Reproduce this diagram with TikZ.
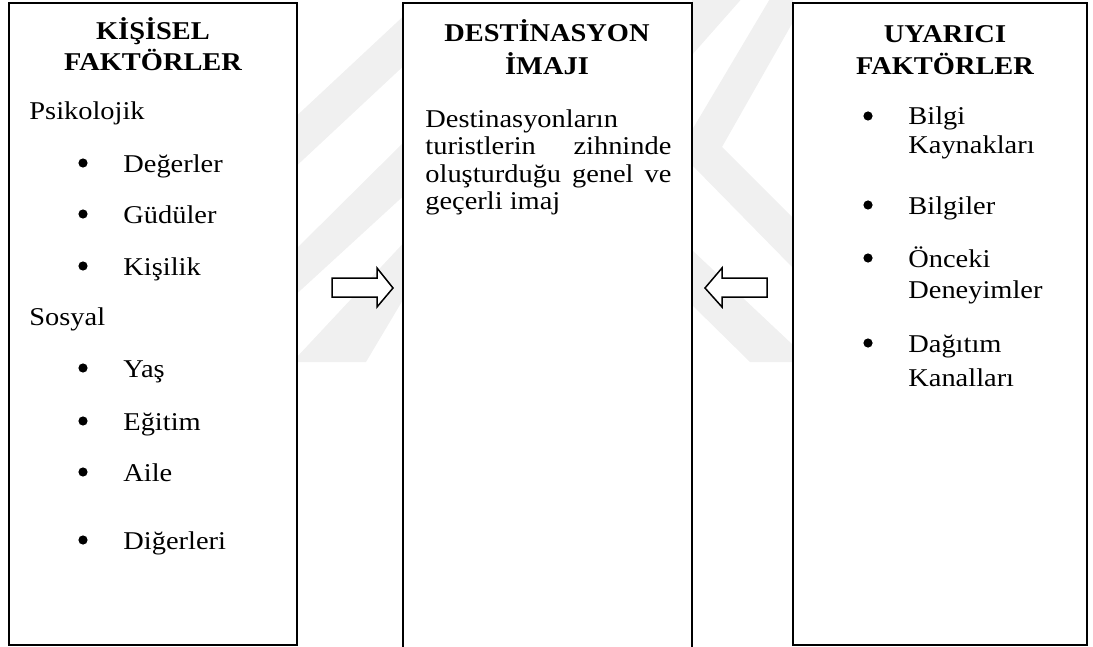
\documentclass[tikz,border=0pt]{standalone}
\usepackage{fontspec}
\setmainfont{Liberation Serif}[FakeStretch=1.11]
\begin{document}
\begin{tikzpicture}[x=0.5pt,y=-0.5pt,
  kutu/.style={draw=black,line width=1pt,fill=white},
  okblok/.style={draw=black,line width=0.75pt,fill=white,line join=miter},
  filigran/.style={fill=black!6,draw=none},
  baslik/.style={font=\fontsize{12.8}{14}\selectfont\bfseries,anchor=base,inner sep=0pt},
  metin/.style={font=\fontsize{12.8}{14}\selectfont,anchor=base west,inner sep=0pt},
  madde/.style={circle,fill=black,inner sep=0pt,minimum size=4.6pt}]
\useasboundingbox (0,0) rectangle (1093,647);
% watermark stripes behind the boxes
\fill[filigran] (410,10) -- (290,122) -- (290,172) -- (410,60) -- cycle;
\fill[filigran] (410,136) -- (290,255) -- (290,300) -- (410,190) -- cycle;
\fill[filigran] (410,236) -- (296,358) -- (296,362) -- (366,362) -- (410,288) -- cycle;
\fill[filigran] (692,-5) -- (745,-5) -- (692,55) -- cycle;
\fill[filigran] (793,-40) -- (692,130) -- (692,165) -- (793,268) -- (793,218) -- (722,147) -- (793,22) -- cycle;
\fill[filigran] (692,250) -- (793,345) -- (793,362) -- (750,362) -- (692,305) -- cycle;
% the three boxes
\draw[kutu] (9,3) rectangle (297,645);
\fill[white] (403,3) rectangle (692,650);
\draw[line width=1pt] (403,650) -- (403,3) -- (692,3) -- (692,650);
\draw[kutu] (793,3) rectangle (1087,645);
% block arrows
\draw[okblok] (332,278) -- (377,278) -- (377,268) -- (393,288) -- (377,307) -- (377,297) -- (332,297) -- cycle;
\draw[okblok] (767,278) -- (722,278) -- (722,268) -- (705,288) -- (722,307) -- (722,297) -- (767,297) -- cycle;
% left box
\node[baslik] (kisisel1) at (153,40) {KİŞİSEL};
\node[baslik] (kisisel2) at (153,71) {FAKTÖRLER};
\node[metin] (psiko) at (29,120) {Psikolojik};
\node[madde] (b1) at (83,163) {};
\node[metin] (degerler) at (123,172) {Değerler};
\node[madde] (b2) at (83,214) {};
\node[metin] (guduler) at (123,223) {Güdüler};
\node[madde] (b3) at (83,266) {};
\node[metin] (kisilik) at (123,275) {Kişilik};
\node[metin] (sosyal) at (29,325) {Sosyal};
\node[madde] (b4) at (83,368) {};
\node[metin] (yas) at (123,377) {Yaş};
\node[madde] (b5) at (83,421) {};
\node[metin] (egitim) at (123,430) {Eğitim};
\node[madde] (b6) at (83,472) {};
\node[metin] (aile) at (123,481) {Aile};
\node[madde] (b7) at (83,540) {};
\node[metin] (digerleri) at (123,549) {Diğerleri};
% middle box
\node[baslik] (imaj1) at (547,42) {DESTİNASYON};
\node[baslik] (imaj2) at (547,75) {İMAJI};
\node[metin] (tanim1) at (425,127) {Destinasyonların};
\node[metin] (tanim2) at (425,155) {\makebox[123pt][s]{turistlerin zihninde}};
\node[metin] (tanim3) at (425,183) {\makebox[123pt][s]{oluşturduğu genel ve}};
\node[metin] (tanim4) at (425,210) {geçerli imaj};
% right box
\node[baslik] (uyarici1) at (945,43) {UYARICI};
\node[baslik] (uyarici2) at (945,75) {FAKTÖRLER};
\node[madde] (c1) at (868,116) {};
\node[metin] (bilgi) at (908,125) {Bilgi};
\node[metin] (kaynak) at (908,154) {Kaynakları};
\node[madde] (c2) at (868,205) {};
\node[metin] (bilgiler) at (908,214) {Bilgiler};
\node[madde] (c3) at (868,258) {};
\node[metin] (onceki) at (908,267) {Önceki};
\node[metin] (deneyim) at (908,298) {Deneyimler};
\node[madde] (c4) at (868,343) {};
\node[metin] (dagitim) at (908,352) {Dağıtım};
\node[metin] (kanal) at (908,386) {Kanalları};
\end{tikzpicture}
\end{document}
